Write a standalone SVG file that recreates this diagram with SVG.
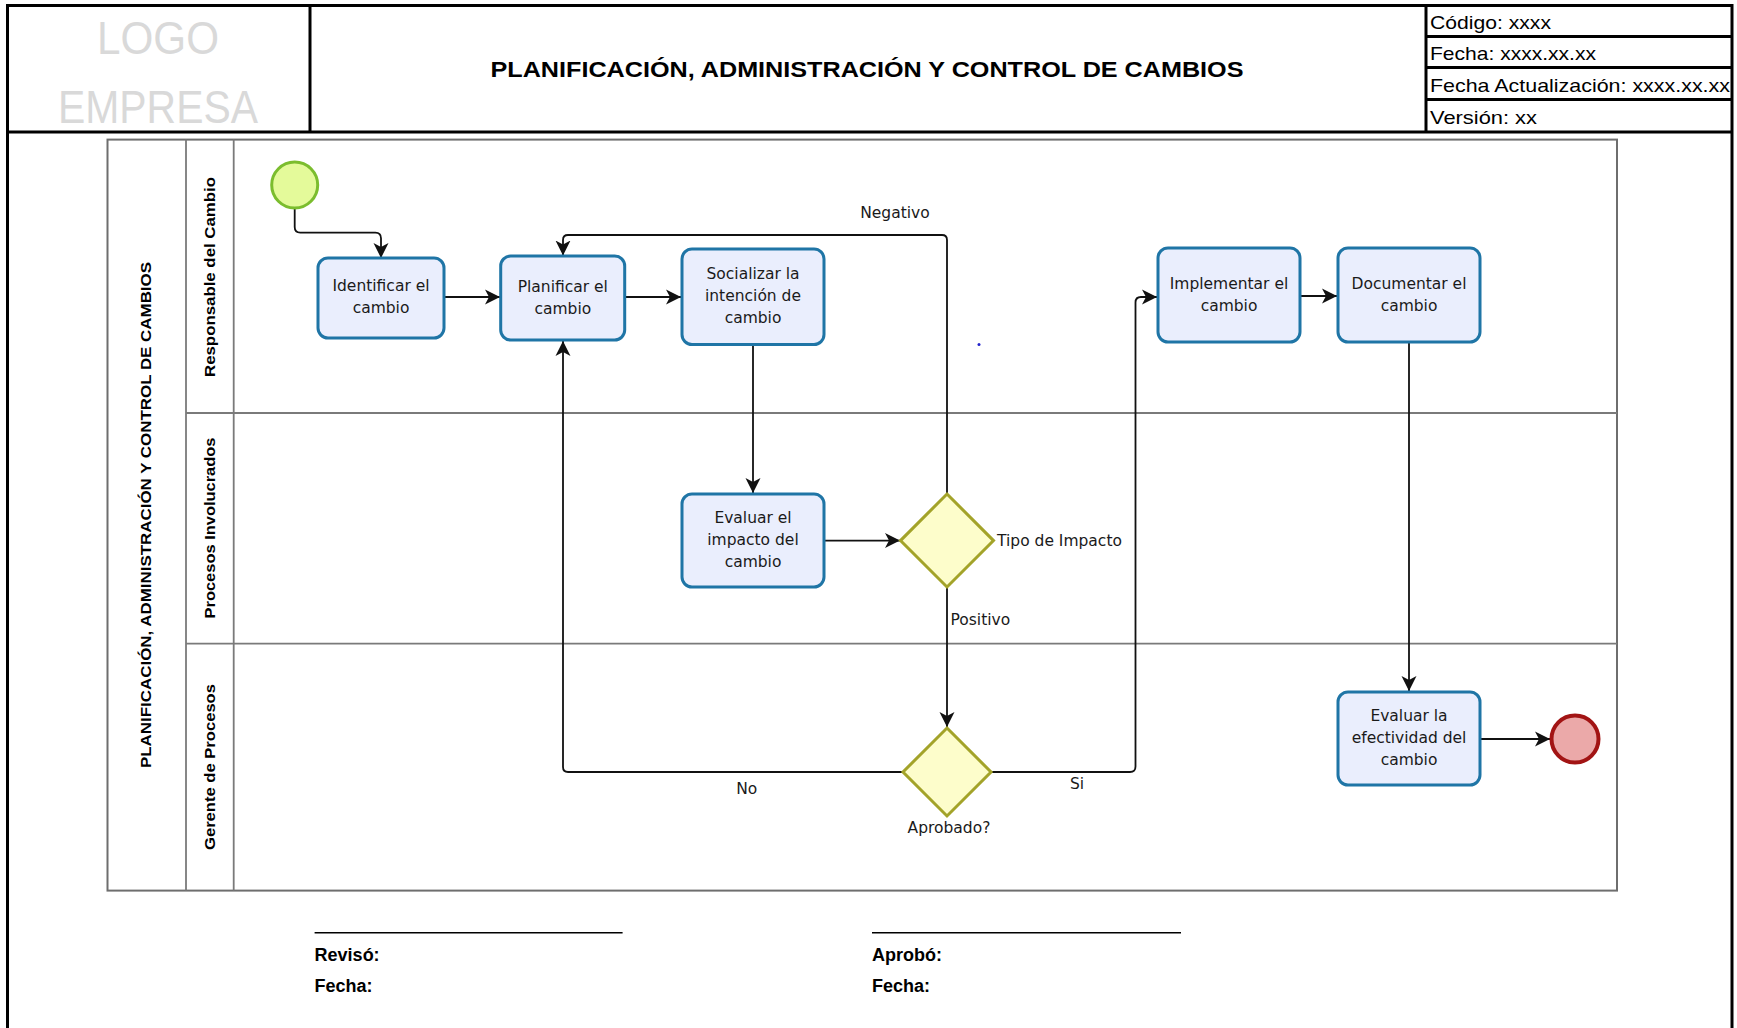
<svg xmlns="http://www.w3.org/2000/svg" width="1737" height="1028" viewBox="0 0 1737 1028">
  <style>
    .frame { fill: none; stroke: #000; stroke-width: 3; }
    .hdr { font-family: "Liberation Sans", Arial, sans-serif; font-size: 19px; fill: #000; }
    .title { font-family: "Liberation Sans", Arial, sans-serif; font-weight: bold; font-size: 22px; fill: #000; }
    .logo { font-family: "Liberation Sans", Arial, sans-serif; font-size: 46px; fill: #d9d9d9; }
    .pool { fill: #fff; stroke: #6e6e6e; stroke-width: 2; }
    .lane { fill: none; stroke: #7a7a7a; stroke-width: 1.8; }
    .lbl { font-family: "Liberation Sans", Arial, sans-serif; font-weight: bold; font-size: 15px; fill: #000; }
    .task rect { fill: #eaeefd; stroke: #1f75a6; stroke-width: 3; }
    .task text, .note { font-family: "DejaVu Sans", Verdana, sans-serif; font-size: 15.5px; fill: #1a1a1a; }
    .task text { text-anchor: middle; }
    .gw polygon { fill: #fdfdcb; stroke: #a3a329; stroke-width: 3; }
    .conn path { fill: none; stroke: #111; stroke-width: 1.8; }
    .foot { font-family: "Liberation Sans", Arial, sans-serif; font-weight: bold; font-size: 18px; fill: #000; }
  </style>
  <defs>
    <marker id="arrow" markerUnits="userSpaceOnUse" markerWidth="18" markerHeight="18" refX="15" refY="9" orient="auto">
      <path d="M0,1.5 L15,9 L0,16.5 L4,9 Z" fill="#111"/>
    </marker>
  </defs>

  <rect width="1737" height="1028" fill="#fff"/>

  <!-- page frame and header table -->
  <g id="header">
    <path class="frame" d="M7.5,1028 L7.5,5.5 L1732,5.5 L1732,1028"/>
    <line class="frame" x1="7.5" y1="132" x2="1732" y2="132"/>
    <line class="frame" x1="310" y1="5.5" x2="310" y2="132"/>
    <line class="frame" x1="1426" y1="5.5" x2="1426" y2="132"/>
    <line class="frame" stroke-width="2" x1="1426" y1="36.5" x2="1732" y2="36.5"/>
    <line class="frame" stroke-width="2" x1="1426" y1="67.5" x2="1732" y2="67.5"/>
    <line class="frame" stroke-width="2" x1="1426" y1="99.5" x2="1732" y2="99.5"/>
    <text class="logo" x="158" y="54" text-anchor="middle" textLength="122" lengthAdjust="spacingAndGlyphs">LOGO</text>
    <text class="logo" x="158" y="123" text-anchor="middle" textLength="200" lengthAdjust="spacingAndGlyphs">EMPRESA</text>
    <text class="title" x="867" y="77" text-anchor="middle" textLength="753" lengthAdjust="spacingAndGlyphs">PLANIFICACIÓN, ADMINISTRACIÓN Y CONTROL DE CAMBIOS</text>
    <text class="hdr" x="1430" y="29" textLength="121" lengthAdjust="spacingAndGlyphs">Código: xxxx</text>
    <text class="hdr" x="1430" y="60" textLength="166" lengthAdjust="spacingAndGlyphs">Fecha: xxxx.xx.xx</text>
    <text class="hdr" x="1430" y="92" textLength="300" lengthAdjust="spacingAndGlyphs">Fecha Actualización: xxxx.xx.xx</text>
    <text class="hdr" x="1430" y="124" textLength="107" lengthAdjust="spacingAndGlyphs">Versión: xx</text>
  </g>

  <!-- pool with three lanes -->
  <g id="pool">
    <rect class="pool" x="107.5" y="139.6" width="1509.5" height="751"/>
    <line class="lane" x1="186" y1="139.6" x2="186" y2="890.6"/>
    <line class="lane" x1="233.7" y1="139.6" x2="233.7" y2="890.6"/>
    <line class="lane" x1="186" y1="413" x2="1617" y2="413"/>
    <line class="lane" x1="186" y1="643.6" x2="1617" y2="643.6"/>
    <text class="lbl" transform="translate(146,515) rotate(-90)" text-anchor="middle" dy="0.35em" textLength="506" lengthAdjust="spacingAndGlyphs">PLANIFICACIÓN,  ADMINISTRACIÓN Y CONTROL DE CAMBIOS</text>
    <text class="lbl" transform="translate(210,277) rotate(-90)" text-anchor="middle" dy="0.35em" textLength="200" lengthAdjust="spacingAndGlyphs">Responsable del Cambio</text>
    <text class="lbl" transform="translate(210,528) rotate(-90)" text-anchor="middle" dy="0.35em" textLength="181" lengthAdjust="spacingAndGlyphs">Procesos Involucrados</text>
    <text class="lbl" transform="translate(210,767) rotate(-90)" text-anchor="middle" dy="0.35em" textLength="166" lengthAdjust="spacingAndGlyphs">Gerente de Procesos</text>
  </g>

  <!-- sequence flows -->
  <g id="connectors" class="conn">
    <path d="M294.7,208 L294.7,227 Q294.7,232.6 300.3,232.6 L375.4,232.6 Q381,232.6 381,238.2 L381,258" marker-end="url(#arrow)"/>
    <path d="M444,297 L500,297" marker-end="url(#arrow)"/>
    <path d="M625,297 L681,297" marker-end="url(#arrow)"/>
    <path d="M753,345 L753,493" marker-end="url(#arrow)"/>
    <path d="M824,540.6 L900,540.6" marker-end="url(#arrow)"/>
    <path d="M947,494 L947,240 Q947,235 942,235 L568,235 Q563,235 563,240 L563,255.5" marker-end="url(#arrow)"/>
    <path d="M947,587 L947,727" marker-end="url(#arrow)"/>
    <path d="M903,772 L568,772 Q563,772 563,767 L563,341" marker-end="url(#arrow)"/>
    <path d="M991,772 L1130,772 Q1135.5,772 1135.5,766.5 L1135.5,302.5 Q1135.5,297 1141,297 L1157,297" marker-end="url(#arrow)"/>
    <path d="M1300,296 L1337,296" marker-end="url(#arrow)"/>
    <path d="M1409,342 L1409,691" marker-end="url(#arrow)"/>
    <path d="M1480,739 L1550,739" marker-end="url(#arrow)"/>
  </g>

  <!-- flow labels -->
  <g id="flow-labels">
    <text class="note" x="895" y="218" text-anchor="middle">Negativo</text>
    <text class="note" x="950.5" y="625">Positivo</text>
    <text class="note" x="746.7" y="794" text-anchor="middle">No</text>
    <text class="note" x="1077" y="789" text-anchor="middle">Si</text>
  </g>

  <!-- events -->
  <g id="start">
    <circle cx="294.7" cy="185" r="23" fill="#e4fa9a" stroke="#7bbd2e" stroke-width="3"/>
  </g>
  <g id="end">
    <circle cx="1575" cy="739" r="23.5" fill="#eba9a9" stroke="#a21414" stroke-width="4"/>
  </g>

  <!-- tasks -->
  <g id="identificar" class="task">
    <rect x="318" y="258" width="126" height="80" rx="10"/>
    <text x="381" y="291">Identificar el</text>
    <text x="381" y="313">cambio</text>
  </g>
  <g id="planificar" class="task">
    <rect x="500.7" y="256" width="124" height="84" rx="10"/>
    <text x="562.8" y="292">Planificar el</text>
    <text x="562.8" y="314">cambio</text>
  </g>
  <g id="socializar" class="task">
    <rect x="682" y="249" width="142" height="95.5" rx="10"/>
    <text x="753" y="279">Socializar la</text>
    <text x="753" y="301">intención de</text>
    <text x="753" y="323">cambio</text>
  </g>
  <g id="evaluar-impacto" class="task">
    <rect x="682" y="494" width="142" height="93" rx="10"/>
    <text x="753" y="523">Evaluar el</text>
    <text x="753" y="545">impacto del</text>
    <text x="753" y="567">cambio</text>
  </g>
  <g id="implementar" class="task">
    <rect x="1158" y="248" width="142" height="94" rx="10"/>
    <text x="1229" y="289">Implementar el</text>
    <text x="1229" y="311">cambio</text>
  </g>
  <g id="documentar" class="task">
    <rect x="1338" y="248" width="142" height="94" rx="10"/>
    <text x="1409" y="289">Documentar el</text>
    <text x="1409" y="311">cambio</text>
  </g>
  <g id="evaluar-efectividad" class="task">
    <rect x="1338" y="692" width="142" height="93" rx="10"/>
    <text x="1409" y="721">Evaluar la</text>
    <text x="1409" y="743">efectividad del</text>
    <text x="1409" y="765">cambio</text>
  </g>

  <!-- gateways -->
  <g id="tipo-impacto" class="gw">
    <polygon points="947,494 993.5,540.6 947,587 900.5,540.6"/>
    <text class="note" x="997" y="546">Tipo de Impacto</text>
  </g>
  <g id="aprobado" class="gw">
    <polygon points="947,728 991,772 947,816 903,772"/>
    <text class="note" x="949" y="833" text-anchor="middle">Aprobado?</text>
  </g>

  <circle cx="979" cy="344.5" r="1.5" fill="#2222cc"/>

  <!-- signature block -->
  <g id="signatures">
    <line x1="314.6" y1="932.8" x2="622.6" y2="932.8" stroke="#000" stroke-width="1.5"/>
    <line x1="872" y1="932.8" x2="1181" y2="932.8" stroke="#000" stroke-width="1.5"/>
    <text class="foot" x="314.6" y="961">Revisó:</text>
    <text class="foot" x="314.6" y="992">Fecha:</text>
    <text class="foot" x="872" y="961">Aprobó:</text>
    <text class="foot" x="872" y="992">Fecha:</text>
  </g>
</svg>
